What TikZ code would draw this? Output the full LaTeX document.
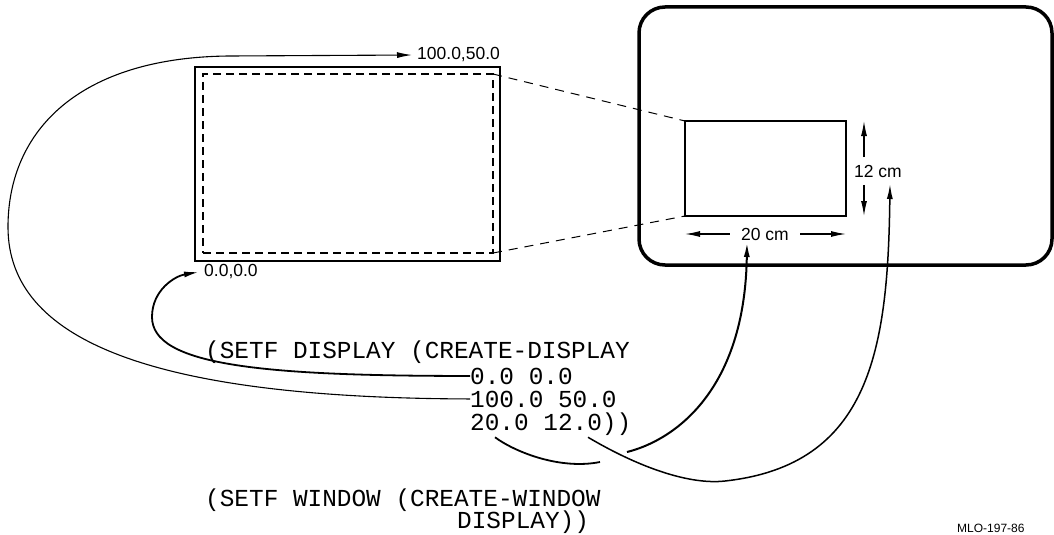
\documentclass[tikz,border=0pt]{standalone}
\usepackage{fontspec}
\setmainfont{Liberation Sans}
\newfontfamily\codefont{Liberation Mono}
\usetikzlibrary{arrows.meta}

\begin{document}
\begin{tikzpicture}[x=1pt,y=-1pt,
  lbl/.style={font=\fontsize{17.5}{20}\selectfont, inner sep=2pt},
  code/.style={font=\codefont\fontsize{24.4}{28}\selectfont, anchor=base west, inner sep=0pt},
  box/.style={draw, inner sep=0pt, outer sep=0pt},
  arr/.style={-{Latex[length=15pt,width=6pt]}},
  dimarr/.style={arr, line width=1.2pt}]
\useasboundingbox (0,0) rectangle (1054,535);
% display and its viewport
\node[box, line width=2pt, minimum width=305pt, minimum height=194pt] (disp) at (347.5,164) {};
\node[box, line width=1.5pt, dash pattern=on 8pt off 5pt, minimum width=290pt, minimum height=179pt] (view) at (348,163.5) {};
% screen and window
\node[box, line width=3.5pt, rounded corners=26pt, minimum width=413pt, minimum height=258pt] (scr) at (845.5,136) {};
\node[box, line width=1.5pt, minimum width=161pt, minimum height=95pt] (win) at (765.5,168.5) {};
\foreach \a/\b in {north east/north west, south east/south west}
  \draw[line width=1pt, dash pattern=on 9pt off 7pt] (view.\a) -- (win.\b);
% corner labels
\node[lbl, anchor=west, inner xsep=5pt] (upr) at (412,55) {100.0,50.0};
\node[lbl, anchor=west, inner xsep=5pt] (lwr) at (199,272) {0.0,0.0};
% window size
\node[lbl, inner ysep=7.5pt] (hlab) at (878,171) {12 cm};
\node[lbl, inner xsep=11pt] (wlab) at (765,234) {20 cm};
\coordinate (htop) at ([xshift=18pt]win.north east);
\coordinate (hbot) at ([xshift=18pt]win.south east);
\draw[dimarr] (hlab.north -| htop) -- (htop);
\draw[dimarr] (hlab.south -| hbot) -- (hbot);
\draw[dimarr] (wlab.west) -- (wlab.west -| win.west);
\draw[dimarr] (wlab.east) -- (wlab.east -| win.east);
% lisp code
\node[code] (setd) at (205,358) {(SETF DISPLAY (CREATE-DISPLAY};
\node[code] (orig) at (470,384) {0.0 0.0};
\node[code] (corn) at (470,407) {100.0 50.0};
\node[code] (size) at (470,430) {20.0 12.0))};
\node[code] (setw) at (205,506) {(SETF WINDOW (CREATE-WINDOW};
\node[code] (wdsp) at (457,528) {DISPLAY))};
\node[font=\fontsize{12}{14}\selectfont, anchor=north west, inner sep=0pt] (mlo) at (957,524) {MLO-197-86};
% arguments to picture
\draw[arr, line width=1.1pt] (corn.west) .. controls (150,398) and (8,340) .. (8,227)
  .. controls (8,130) and (80,57) .. (230,56) -- (upr.west);
\draw[arr, line width=1.8pt] (orig.west) .. controls (260,376) and (152,365) .. (152,317)
  .. controls (152,290) and (175,276) .. (lwr.west);
\coordinate (a1) at (600,462); \coordinate (a2) at (627,452);
\coordinate (wtip) at (747,242); \coordinate (htip) at (890,184);
\draw[line width=1.8pt] ([xshift=25pt,yshift=-2pt]size.south west) .. controls (515,452) and (560,470) .. (a1);
\draw[arr, line width=2pt] (a2) .. controls (675,440) and (745,390) .. (wtip);
\draw[arr, line width=1.5pt] ([xshift=118pt,yshift=-2pt]size.south west) .. controls (640,468) and (690,485) .. (725,481)
  .. controls (870,465) and (888,350) .. (htip);
\end{tikzpicture}
\end{document}
